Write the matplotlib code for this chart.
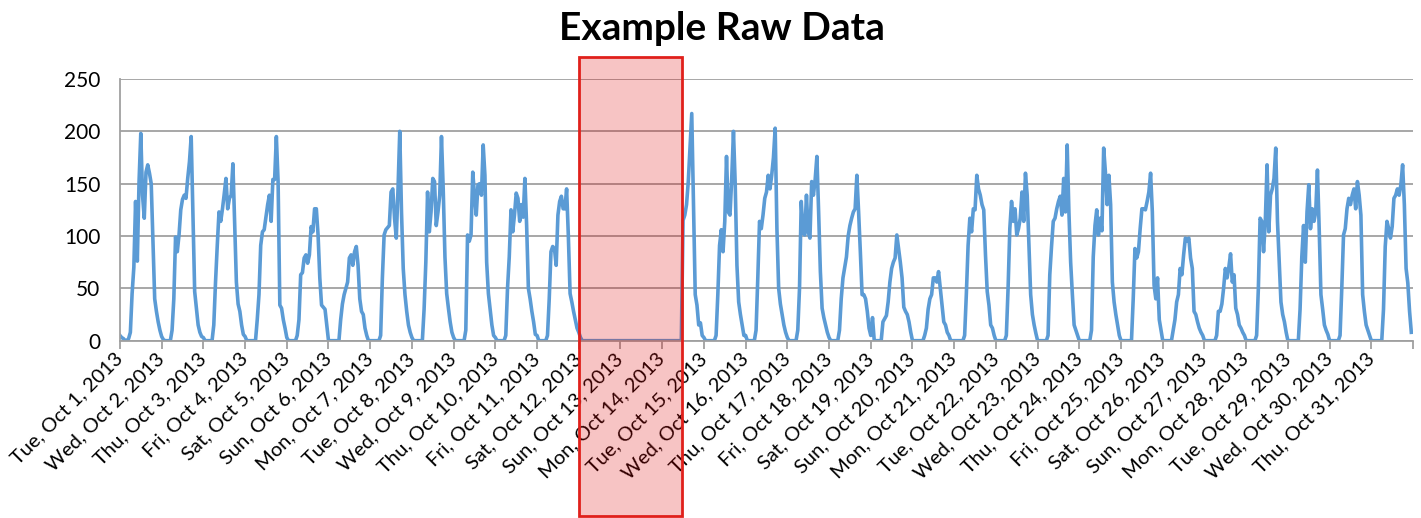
import matplotlib
matplotlib.use("Agg")
import matplotlib.pyplot as plt
import numpy as np
import pandas as pd
from matplotlib.patches import Rectangle
from matplotlib.transforms import blended_transform_factory

# hourly values, one list per day (hour 0 .. 23)
oct01 = [5, 3, 2, 0, 0, 2, 8, 45, 70, 133, 76, 152, 198, 139, 117, 161, 168, 160, 150, 95, 40, 28, 18, 10]
oct02 = [4, 1, 0, 0, 0, 0, 10, 40, 99, 85, 101, 125, 135, 139, 136, 155, 171, 195, 123, 47, 31, 15, 8, 4]
oct03 = [3, 0, 0, 0, 0, 0, 15, 56, 91, 123, 114, 126, 140, 155, 126, 136, 139, 169, 114, 56, 35, 28, 15, 6]
oct04 = [4, 0, 0, 0, 0, 0, 0, 20, 44, 91, 104, 106, 118, 130, 139, 114, 154, 154, 195, 152, 34, 31, 20, 12]
oct05 = [3, 0, 0, 0, 0, 0, 5, 20, 63, 65, 79, 82, 74, 82, 109, 104, 126, 126, 101, 60, 34, 32, 30, 15]
oct06 = [0, 0, 0, 0, 0, 0, 0, 20, 35, 44, 50, 56, 79, 82, 72, 85, 90, 72, 40, 28, 25, 12, 5, 0]
oct07 = [0, 0, 0, 0, 0, 0, 5, 60, 101, 106, 108, 110, 142, 145, 117, 98, 145, 200, 123, 69, 44, 28, 15, 8]
oct08 = [3, 0, 0, 0, 0, 0, 0, 30, 75, 142, 104, 123, 155, 152, 110, 123, 139, 195, 145, 80, 45, 31, 18, 8]
oct09 = [3, 0, 0, 0, 0, 0, 0, 10, 101, 95, 101, 161, 139, 120, 149, 150, 139, 187, 158, 75, 45, 30, 15, 5]
oct10 = [3, 0, 0, 0, 0, 0, 5, 50, 80, 125, 104, 120, 141, 136, 114, 130, 118, 155, 110, 50, 40, 28, 18, 6]
oct11 = [5, 0, 0, 0, 0, 0, 5, 40, 85, 90, 88, 72, 120, 133, 138, 126, 126, 145, 100, 45, 37, 28, 20, 12]
oct12 = [8, 3, 0, 0, 0, 0, 0, 0, 0, 0, 0, 0, 0, 0, 0, 0, 0, 0, 0, 0, 0, 0, 0, 0]
oct13 = [0, 0, 0, 0, 0, 0, 0, 0, 0, 0, 0, 0, 0, 0, 0, 0, 0, 0, 0, 0, 0, 0, 0, 0]
oct14 = [0, 0, 0, 0, 0, 0, 0, 0, 0, 0, 0, 0, 115, 120, 130, 152, 184, 217, 130, 44, 34, 15, 17, 5]
oct15 = [3, 0, 0, 0, 0, 0, 0, 5, 44, 91, 106, 85, 114, 176, 123, 120, 155, 200, 150, 72, 37, 25, 15, 5]
oct16 = [5, 0, 0, 0, 0, 0, 10, 60, 114, 107, 120, 136, 142, 158, 145, 158, 175, 203, 107, 50, 35, 25, 15, 8]
oct17 = [3, 0, 0, 0, 0, 0, 10, 50, 133, 104, 101, 139, 104, 98, 152, 139, 154, 176, 123, 66, 31, 22, 15, 8]
oct18 = [3, 0, 0, 0, 0, 0, 10, 40, 60, 70, 80, 100, 110, 117, 123, 126, 158, 123, 85, 44, 44, 40, 28, 12]
oct19 = [5, 22, 0, 0, 0, 0, 0, 18, 21, 24, 37, 56, 69, 75, 79, 101, 88, 75, 60, 32, 28, 25, 18, 8]
oct20 = [0, 0, 0, 0, 0, 0, 0, 5, 12, 30, 40, 44, 60, 60, 56, 66, 50, 34, 18, 15, 8, 5, 0, 0]
oct21 = [0, 0, 0, 0, 0, 0, 5, 45, 91, 117, 104, 126, 125, 158, 145, 139, 130, 125, 82, 47, 34, 15, 12, 5]
oct22 = [0, 0, 0, 0, 0, 0, 5, 50, 107, 133, 114, 126, 101, 107, 117, 142, 114, 160, 139, 91, 44, 25, 15, 7]
oct23 = [0, 0, 0, 0, 0, 0, 5, 63, 90, 114, 117, 126, 133, 138, 120, 155, 123, 187, 123, 75, 44, 15, 10, 5]
oct24 = [0, 0, 0, 0, 0, 0, 0, 10, 80, 110, 125, 101, 117, 105, 184, 161, 130, 158, 130, 56, 37, 25, 15, 5]
oct25 = [0, 0, 0, 0, 0, 0, 0, 40, 88, 79, 85, 107, 126, 126, 125, 133, 142, 160, 123, 53, 40, 60, 20, 10]
oct26 = [0, 0, 0, 0, 0, 0, 10, 20, 37, 44, 69, 63, 82, 98, 95, 98, 79, 69, 28, 25, 18, 12, 8, 5]
oct27 = [0, 0, 0, 0, 0, 0, 0, 5, 28, 28, 35, 50, 69, 60, 70, 83, 56, 63, 31, 25, 15, 12, 8, 5]
oct28 = [0, 0, 0, 0, 0, 0, 5, 50, 117, 114, 85, 114, 168, 104, 139, 145, 155, 184, 114, 75, 37, 25, 18, 8]
oct29 = [0, 0, 0, 0, 0, 0, 0, 30, 80, 110, 75, 123, 149, 107, 126, 114, 123, 163, 107, 44, 30, 15, 10, 6]
oct30 = [0, 0, 0, 0, 0, 0, 5, 50, 101, 107, 126, 136, 130, 139, 145, 126, 152, 139, 120, 44, 28, 15, 10, 5]
oct31 = [0, 0, 0, 0, 0, 0, 0, 30, 90, 114, 107, 98, 109, 136, 139, 145, 139, 149, 168, 130, 69, 55, 28, 8]

days = [oct01, oct02, oct03, oct04, oct05, oct06, oct07, oct08, oct09, oct10,
        oct11, oct12, oct13, oct14, oct15, oct16, oct17, oct18, oct19, oct20,
        oct21, oct22, oct23, oct24, oct25, oct26, oct27, oct28, oct29, oct30, oct31]

dates = pd.date_range("2013-10-01", "2013-10-31", freq="D")
day_labels = [f"{d:%a}, {d:%b} {d.day}, {d.year}" for d in dates]

# outage boxed in red, in hours from Oct 1 00:00
gap_start = 264
gap_end = 323.5

y_ticks = [0, 50, 100, 150, 200, 250]

plt.rcParams['font.family'] = ['Lato', 'DejaVu Sans']


def raw_data_plot():
    counts = np.concatenate(days)
    hours = np.arange(len(counts))

    fig = plt.figure(figsize=(14.21, 5.18), dpi=100)
    ax = fig.add_axes([0.0844, 0.3423, 0.9100, 0.5052])

    ax.plot(hours / 24.0, counts, color='#5B9BD5', lw=2.6, solid_joinstyle='round')
    ax.set_xlim(0, 31)
    ax.set_ylim(0, 250)

    ax.set_yticks(y_ticks)
    ax.yaxis.grid(True, color='#A0A0A0', lw=1.3)
    ax.set_axisbelow(True)
    ax.set_xticks(np.arange(len(days) + 1))
    ax.set_xticklabels(day_labels + [''], rotation=45, ha='right', va='center',
                       rotation_mode='anchor')
    ax.tick_params(axis='x', length=6, width=1.3, color='#A0A0A0', labelsize=14.5, pad=5)
    ax.tick_params(axis='y', length=0, labelsize=15, pad=14)
    for side in ['top', 'right']:
        ax.spines[side].set_visible(False)
    for side in ['left', 'bottom']:
        ax.spines[side].set_color('#A0A0A0')
        ax.spines[side].set_linewidth(1.3)

    fig.text(0.508, 0.945, 'Example Raw Data', ha='center', va='center',
             fontsize=28, fontweight='bold')

    # red box over the missing stretch, running past the plot to the bottom
    trans = blended_transform_factory(ax.transData, fig.transFigure)
    box = Rectangle((gap_start / 24.0, 0.004), (gap_end - gap_start) / 24.0, 0.886,
                    transform=trans, facecolor=(0.88, 0.0, 0.0, 0.23),
                    edgecolor='#E0201B', lw=2, zorder=10)
    fig.add_artist(box)

    fig.savefig("out.png", dpi=100)


if __name__ == "__main__":
    raw_data_plot()
